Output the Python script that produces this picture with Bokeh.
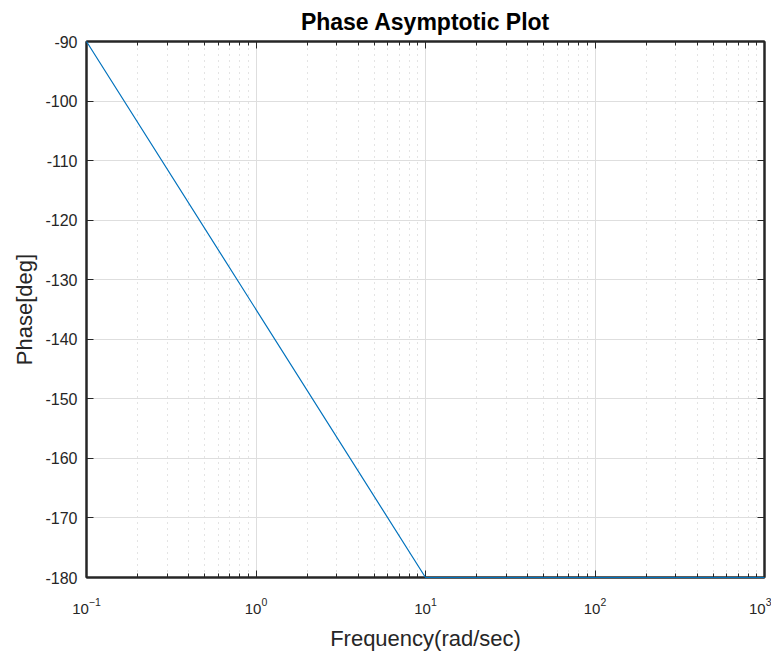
from bokeh.plotting import figure
from bokeh.models import LogAxis, LinearAxis, Range1d, LogTicker, FixedTicker
from bokeh.embed import file_html
from bokeh.resources import INLINE

freq = [0.1, 10, 1000]
phase = [-90, -180, -180]
y_ticks = [-180, -170, -160, -150, -140, -130, -120, -110, -100, -90]

FONT = "Liberation Sans"
AX = "#262626"

p = figure(width=771, height=653, x_axis_type="log",
           x_range=Range1d(0.1, 1000), y_range=Range1d(-180, -90),
           output_backend="svg", toolbar_location=None,
           title="Phase Asymptotic Plot",
           min_border_left=86, min_border_right=7, min_border_top=41, min_border_bottom=67)

p.line(freq, phase, line_color="#0072BD", line_width=1.2, level="overlay")

p.title.text_font = FONT
p.title.text_font_size = "23px"
p.title.text_font_style = "bold"
p.title.text_color = "black"
p.title.align = "center"
p.title.standoff = 13

p.outline_line_color = AX
p.outline_line_width = 2

xa = p.xaxis[0]
ya = p.yaxis[0]
ya.ticker = FixedTicker(ticks=y_ticks)
ya.major_label_overrides = {t: str(t) for t in y_ticks}
xa.ticker = LogTicker(num_minor_ticks=10)
for ax in (xa, ya):
    ax.axis_line_color = AX
    ax.axis_line_width = 2
    ax.major_tick_line_color = AX
    ax.minor_tick_line_color = AX
    ax.major_tick_in = 7
    ax.major_tick_out = 0
    ax.minor_tick_in = 4
    ax.minor_tick_out = 0
    ax.major_label_text_font = FONT
    ax.major_label_text_font_size = "16px"
    ax.major_label_text_color = AX
    ax.axis_label_text_font = FONT
    ax.axis_label_text_font_style = "normal"
    ax.axis_label_text_font_size = "22px"
    ax.axis_label_text_color = AX
xa.major_label_text_font_size = "15px"
ya.minor_tick_line_color = None
xa.axis_label = "Frequency(rad/sec)"
ya.axis_label = "Phase[deg]"
xa.major_label_standoff = 20
ya.major_label_standoff = 9
xa.axis_label_standoff = 9

# top and right tick-only axes
top = LogAxis(ticker=LogTicker(num_minor_ticks=10), major_label_text_font_size="1px",
              major_label_text_color=None, major_label_standoff=0)
right = LinearAxis(ticker=FixedTicker(ticks=y_ticks), major_label_text_font_size="1px",
                   major_label_text_color=None, major_label_standoff=0)
for ax in (top, right):
    ax.axis_line_color = AX
    ax.axis_line_width = 2
    ax.major_tick_line_color = AX
    ax.minor_tick_line_color = AX
    ax.major_tick_in = 7
    ax.major_tick_out = 0
    ax.minor_tick_in = 4
    ax.minor_tick_out = 0
right.minor_tick_line_color = None
p.add_layout(top, "above")
p.add_layout(right, "right")

p.xgrid.grid_line_color = "#dedede"
p.xgrid.minor_grid_line_color = "#c8c8c8"
p.xgrid.minor_grid_line_dash = "1 5"
p.ygrid.grid_line_color = "#dedede"

open("out.html", "w").write(file_html(p, INLINE))
